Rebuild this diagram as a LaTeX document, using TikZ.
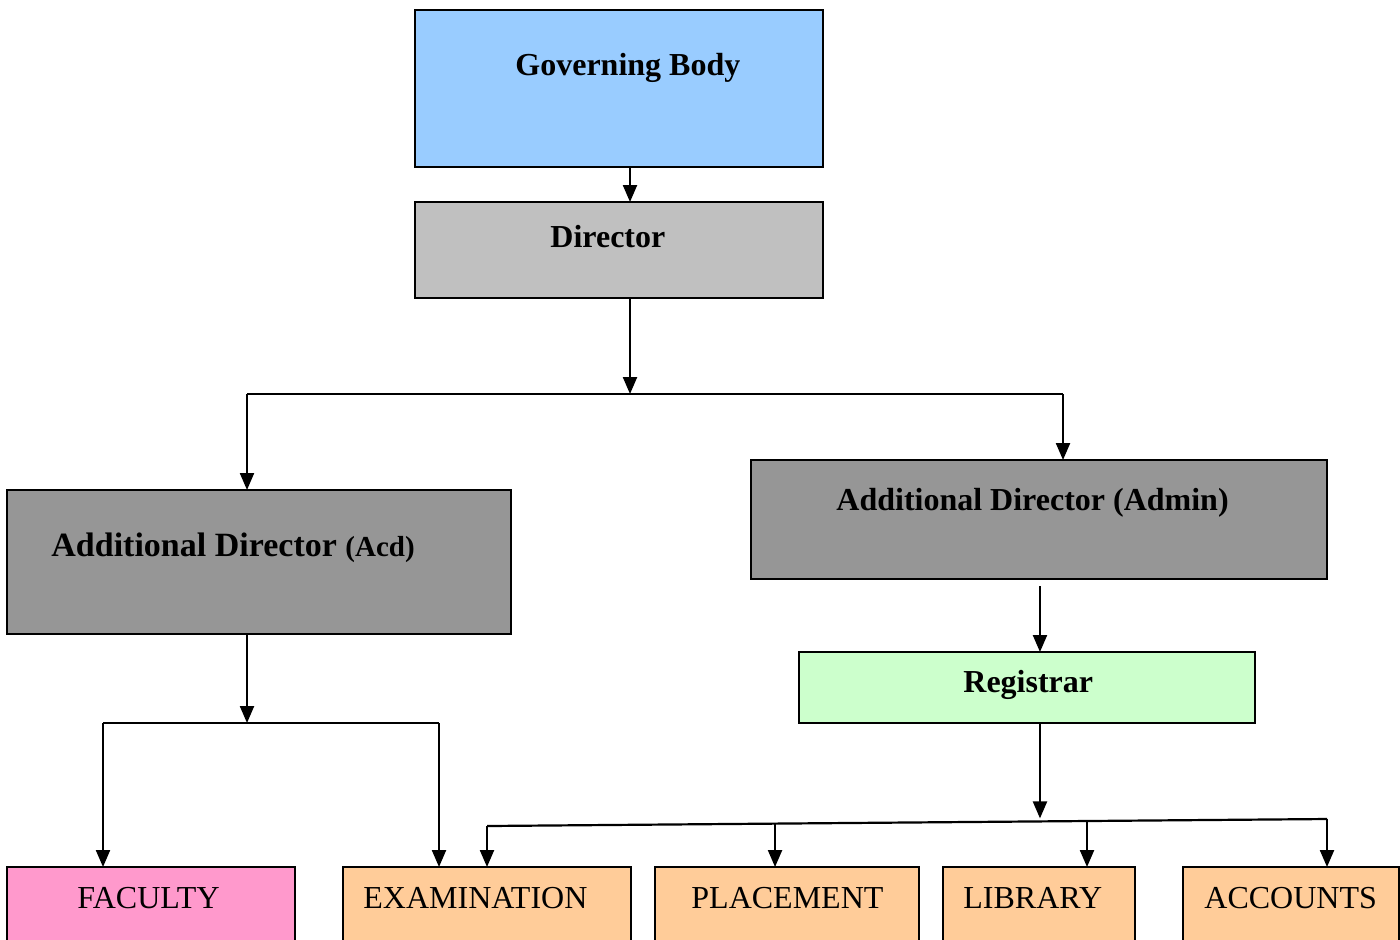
\documentclass[tikz,border=0pt]{standalone}
\usepackage{fontspec}
\setmainfont{Liberation Serif}
\usetikzlibrary{arrows.meta,calc}
\definecolor{govblue}{HTML}{99CCFF}
\definecolor{dirgray}{HTML}{C0C0C0}
\definecolor{adgray}{HTML}{969696}
\definecolor{reggreen}{HTML}{CCFFCC}
\definecolor{facpink}{HTML}{FF99CC}
\definecolor{unitorange}{HTML}{FFCC99}
\begin{document}
\begin{tikzpicture}[x=0.5pt,y=-0.5pt,
  box/.style={draw=black,line width=1pt,inner sep=0pt,outer sep=0pt},
  lbl/.style={anchor=base west,inner sep=0pt,font=\fontsize{16}{19}\selectfont},
  blbl/.style={lbl,font=\fontsize{16}{19}\selectfont\bfseries},
  conn/.style={line width=1.1pt},
  arr/.style={conn,-{Triangle[length=8.5pt,width=7pt]}}]
\useasboundingbox (0,0) rectangle (1400,939);
\fill[white] (0,0) rectangle (1400,939);
% boxes
\node[box,fill=govblue,minimum width=204pt,minimum height=78.5pt] (gov) at (619,88.5) {};
\node[box,fill=dirgray,minimum width=204pt,minimum height=48pt] (dir) at (619,250) {};
\node[box,fill=adgray,minimum width=252pt,minimum height=72pt] (acd) at (259,562) {};
\node[box,fill=adgray,minimum width=288pt,minimum height=59.5pt] (adm) at (1039,519.5) {};
\node[box,fill=reggreen,minimum width=228pt,minimum height=35.5pt] (reg) at (1027,687.5) {};
\node[box,fill=facpink,minimum width=144pt,minimum height=39pt] (fac) at (151,906) {};
\node[box,fill=unitorange,minimum width=144pt,minimum height=39pt] (exam) at (487,906) {};
\node[box,fill=unitorange,minimum width=132pt,minimum height=39pt] (plac) at (787,906) {};
\node[box,fill=unitorange,minimum width=96pt,minimum height=39pt] (lib) at (1039,906) {};
\node[box,fill=unitorange,minimum width=108pt,minimum height=39pt] (acc) at (1291,906) {};
% labels
\node[blbl] (tgov) at (515,75) {Governing Body};
\node[blbl] (tdir) at (550,247) {Director};
\node[lbl,font=\fontsize{17}{20}\selectfont\bfseries] (tacd) at (51,556) {Additional Director {\fontsize{14.5}{17}\selectfont(Acd)}};
\node[blbl] (tadm) at (836,510) {Additional Director (Admin)};
\node[blbl] (treg) at (963,692) {Registrar};
\node[lbl] (tfac) at (77,908) {FACULTY};
\node[lbl] (texam) at (363,908) {EXAMINATION};
\node[lbl] (tplac) at (691,908) {PLACEMENT};
\node[lbl] (tlib) at (963,908) {LIBRARY};
\node[lbl] (tacc) at (1204,908) {ACCOUNTS};
% junction coordinates
\coordinate (j1) at (630,394);
\coordinate (jl) at (247,394);
\coordinate (jr) at (1063,394);
\coordinate (ja) at (247,723);
\coordinate (fl) at (103,723);
\coordinate (fr) at (439,723);
\coordinate (bL) at (487,826);
\coordinate (bR) at (1327,819);
\coordinate (bP) at ($(bL)!0.3429!(bR)$);
\coordinate (bLib) at ($(bL)!0.7143!(bR)$);
\coordinate (bReg) at ($(bL)!0.6583!(bR)$);
% connectors
\draw[arr] (gov.south -| j1) -- (dir.north -| j1);
\draw[arr] (dir.south -| j1) -- (j1);
\draw[conn] (jl) -- (jr);
\draw[arr] (jl) -- (acd.north -| jl);
\draw[arr] (jr) -- (adm.north -| jr);
\draw[arr] ([yshift=-3.5pt]adm.south -| bReg) -- (reg.north -| bReg);
\draw[arr] (acd.south -| ja) -- (ja);
\draw[conn] (fl) -- (fr);
\draw[arr] (fl) -- (fac.north -| fl);
\draw[arr] (fr) -- (exam.north -| fr);
\draw[arr] (reg.south -| bReg) -- ([yshift=1.5pt]bReg);
\draw[conn] (bL) -- (bR);
\draw[arr] (bL) -- (exam.north -| bL);
\draw[arr] (bP) -- (plac.north -| bP);
\draw[arr] (bLib) -- (lib.north -| bLib);
\draw[arr] (bR) -- (acc.north -| bR);
\end{tikzpicture}
\end{document}
